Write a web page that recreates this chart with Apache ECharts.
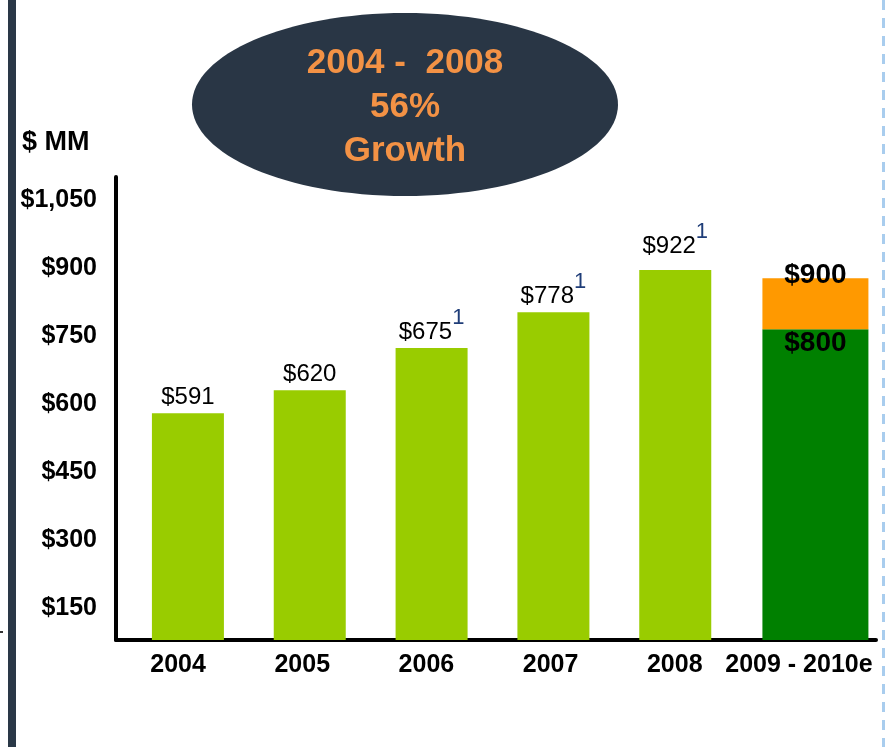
<!DOCTYPE html>
<html>
<head>
<meta charset="utf-8">
<script src="https://cdn.jsdelivr.net/npm/echarts@6/dist/echarts.min.js"></script>
<style>
html,body{margin:0;padding:0;background:#fff;}
#chart{width:888px;height:747px;}
</style>
</head>
<body>
<div id="chart"></div>
<script>
// ---- data ----
const categories = ['2004', '2005', '2006', '2007', '2008', '2009 - 2010e'];
// bar heights as drawn against the $ MM axis
const actualValues = [580, 631, 724, 803, 896, '-'];
const actualLabels = ['$591', '$620', '$675', '$778', '$922', ''];
const footnotes = ['', '', '1', '1', '1', ''];
const forecastBase = ['-', '-', '-', '-', '-', 765];
const forecastUpside = ['-', '-', '-', '-', '-', 113];
const forecastBaseLabel = '$800';
const forecastTopLabel = '$900';
const yTicks = [150, 300, 450, 600, 750, 900, 1050];
const axisTitle = '$ MM';
const bubbleText = ['2004 -  2008', '56%', 'Growth'];

const FONT = "'Liberation Sans', Arial, sans-serif";
const Y_MIN = 80, Y_MAX = 1101;

const chart = echarts.init(document.getElementById('chart'), null, {renderer: 'canvas'});

const actualData = actualValues.map((v, i) => {
  if (v === '-') return '-';
  return {value: v, label: {distance: i === 4 ? -1 : -9}};
});

function fmtMoney(v) {
  return '$' + String(v).replace(/\B(?=(\d{3})+(?!\d))/g, ',');
}

const hiddenY = gi => ({type: 'value', gridIndex: gi, min: Y_MIN, max: Y_MAX, show: false});
const hiddenX = gi => ({type: 'category', gridIndex: gi, data: categories, show: false});

const option = {
  backgroundColor: '#ffffff',
  animation: false,
  grid: [
    // frame: axis lines and y labels
    {left: 116, right: 12, top: 177, bottom: 107},
    // category labels
    {left: 116, right: 27, top: 177, bottom: 107},
    // actual bars
    {left: 127, right: 30, top: 177, bottom: 107},
    // forecast bar
    {left: 116, right: 9, top: 177, bottom: 107}
  ],
  xAxis: [
    {
      type: 'category', gridIndex: 0, data: categories,
      axisLine: {show: true, lineStyle: {color: '#000', width: 4}},
      axisTick: {show: false}, axisLabel: {show: false}, splitLine: {show: false}
    },
    {
      type: 'category', gridIndex: 1, data: categories,
      axisLine: {show: false}, axisTick: {show: false}, splitLine: {show: false},
      axisLabel: {
        color: '#000', fontFamily: FONT, fontWeight: 'bold', fontSize: 25,
        margin: 13, interval: 0
      }
    },
    hiddenX(2),
    hiddenX(3)
  ],
  yAxis: [
    {
      type: 'value', gridIndex: 0, min: Y_MIN, max: Y_MAX,
      axisLine: {show: true, lineStyle: {color: '#000', width: 4}},
      axisTick: {show: false}, splitLine: {show: false},
      axisLabel: {
        customValues: yTicks,
        formatter: v => fmtMoney(v),
        color: '#000', fontFamily: FONT, fontWeight: 'bold', fontSize: 25,
        margin: 19
      }
    },
    hiddenY(1),
    hiddenY(2),
    hiddenY(3)
  ],
  series: [
    {
      type: 'bar', xAxisIndex: 2, yAxisIndex: 2,
      barWidth: 72,
      data: actualData,
      itemStyle: {color: '#99cc00'},
      label: {
        show: true,
        position: 'top',
        formatter: p => '{v|' + actualLabels[p.dataIndex] + '}' +
          (footnotes[p.dataIndex] ? '{s|' + footnotes[p.dataIndex] + '}' : ''),
        rich: {
          v: {fontFamily: FONT, fontSize: 24, color: '#000', lineHeight: 50},
          s: {fontFamily: FONT, fontSize: 22, color: '#1f3d78', lineHeight: 20, verticalAlign: 'top'}
        }
      }
    },
    {
      type: 'bar', xAxisIndex: 3, yAxisIndex: 3,
      stack: 'forecast',
      barWidth: 106,
      data: forecastBase,
      itemStyle: {color: '#008000'},
      label: {
        show: true, position: 'insideTop', distance: 0,
        formatter: () => forecastBaseLabel,
        color: '#000', fontFamily: FONT, fontWeight: 'bold', fontSize: 28, lineHeight: 28
      }
    },
    {
      type: 'bar', xAxisIndex: 3, yAxisIndex: 3,
      stack: 'forecast',
      barWidth: 106,
      data: forecastUpside,
      itemStyle: {color: '#ff9900'},
      label: {
        show: true, position: 'top', distance: -12,
        formatter: () => forecastTopLabel,
        color: '#000', fontFamily: FONT, fontWeight: 'bold', fontSize: 28, lineHeight: 30
      }
    }
  ],
  graphic: [
    {type: 'rect', shape: {x: 8, y: 0, width: 8, height: 747}, style: {fill: '#2a3847'}, silent: true},
    {type: 'rect', shape: {x: 0, y: 631, width: 3, height: 2}, style: {fill: '#333'}, silent: true},
    {type: 'line', shape: {x1: 883.5, y1: 0, x2: 883.5, y2: 747},
      style: {stroke: '#a9cdee', lineWidth: 3, lineDash: [10, 8]}, silent: true},
    {type: 'ellipse', shape: {cx: 405, cy: 104.5, rx: 213, ry: 91.5},
      style: {fill: '#293645'}, silent: true},
    {type: 'text', x: 405, y: 107,
      style: {text: bubbleText.join('\n'), fill: '#f39245', font: 'bold 35px ' + FONT,
        textAlign: 'center', verticalAlign: 'middle', lineHeight: 44},
      silent: true},
    {type: 'text', x: 22, y: 143,
      style: {text: axisTitle, fill: '#000', font: 'bold 27px ' + FONT,
        textAlign: 'left', verticalAlign: 'middle'},
      silent: true}
  ]
};

chart.setOption(option);
</script>
</body>
</html>
